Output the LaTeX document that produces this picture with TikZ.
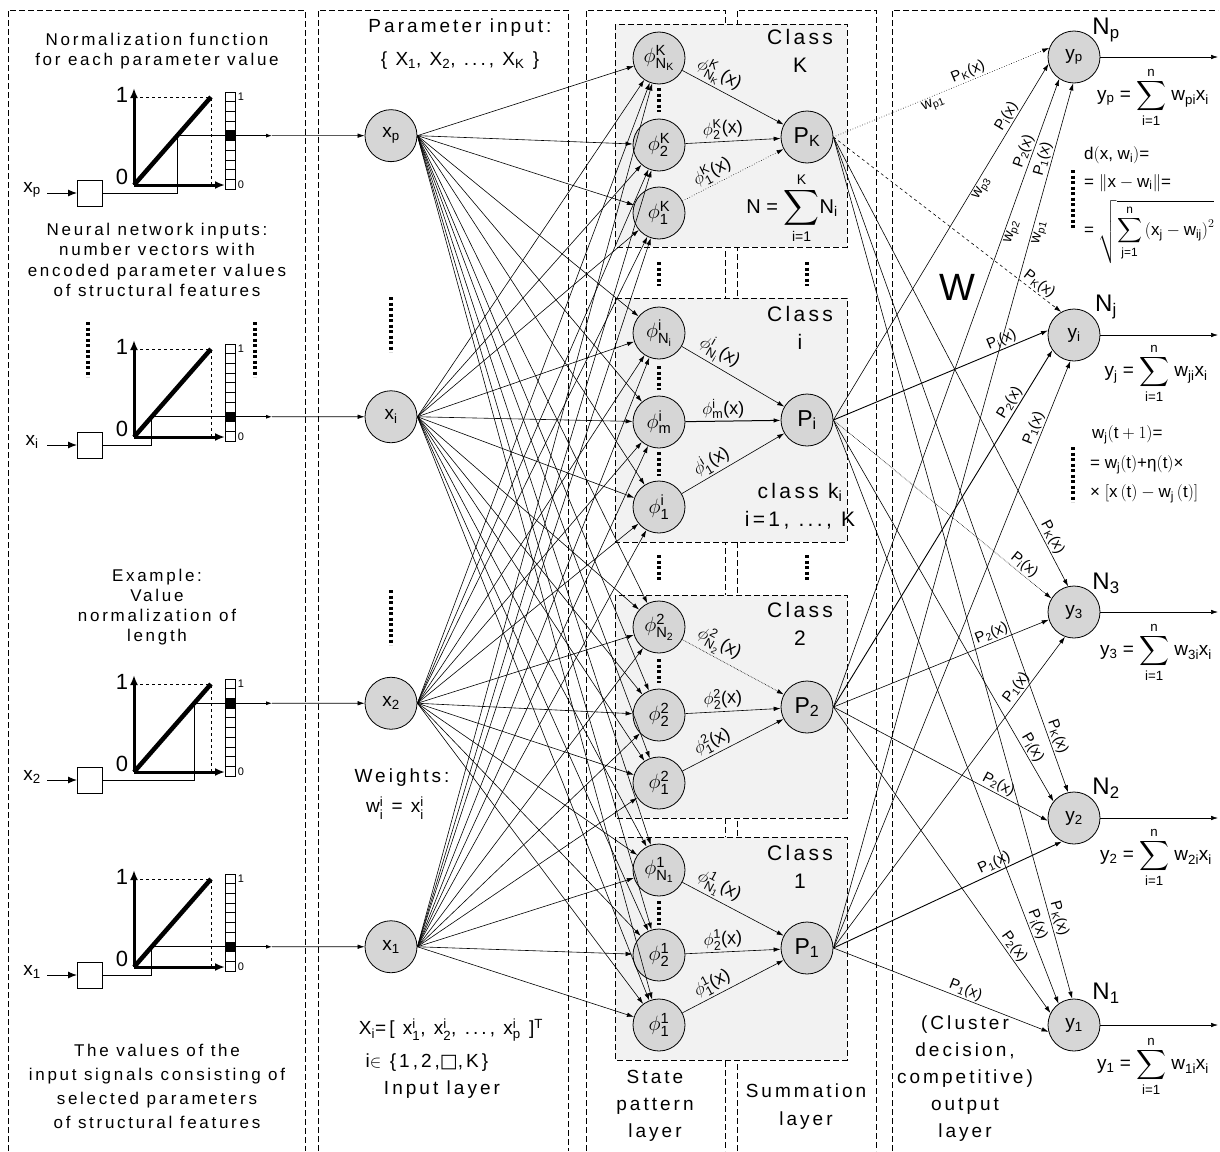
\documentclass[tikz,border=0pt]{standalone}
\usepackage{amsmath}
\usepackage{graphicx}
\usepackage{fontspec}
\setmainfont{Liberation Sans}
\newfontfamily\spcfont{Liberation Sans}[LetterSpace=16]
\newfontfamily\dejavu{DejaVu Sans}
\usetikzlibrary{arrows.meta}
\newcommand\TXT[1]{\text{#1}}
\newcommand\PLab[1]{P\textsubscript{#1}(x)}
\newcommand\BigSum{\mathop{\vcenter{\hbox{\scalebox{1.2}{$\displaystyle\sum$}}}}\limits}
% #1 origin y, #2 filled cell index, #3 input label, #4 target node, #5 coordinate name
\newcommand\normgraph[5]{%
  \pgfmathsetmacro\ngfy{#1-93+(#2+0.5)*9.7}%
  \pgfmathsetmacro\ngcx{134+(#1-\ngfy)*77/88}%
  \draw[thinl] (102,#1+8) -- (\ngcx,#1+8) -- (\ngcx,\ngfy);
  \draw[thinl,-{Latex[length=6pt,width=4pt]}] (\ngcx,\ngfy) -- (272,\ngfy);
  \coordinate (#5) at (272,\ngfy);
  \draw[conn] (#5) -- (#4);
  \draw[axis] (134,#1) -- (134,#1-97);
  \draw[axis] (134,#1) -- (225,#1);
  \draw[thinl,dashed] (140,#1-88) -- (211,#1-88) -- (211,#1);
  \draw[diag] (134,#1) -- (211,#1-88);
  \foreach \k in {0,...,9}{\draw[thinl,fill=white] (225,#1-93+\k*9.7) rectangle (235,#1-93+\k*9.7+9.7);}
  \fill (225,#1-93+#2*9.7) rectangle (235,#1-93+#2*9.7+9.7);
  \node[font=\fontsize{22}{24}\selectfont] at (122,#1-90) {1};
  \node[font=\fontsize{22}{24}\selectfont] at (122,#1-8) {0};
  \node[font=\fontsize{11}{12}\selectfont] at (241,#1-88) {1};
  \node[font=\fontsize{11}{12}\selectfont] at (241,#1) {0};
  \node[font=\fontsize{19}{22}\selectfont] at (32,#1+5) {#3};
  \draw[line width=1pt,-{Latex[length=9pt,width=7pt]}] (47,#1+8) -- (77,#1+8);
  \draw[thinl,fill=white] (77,#1-5) rectangle (102,#1+21);
}
\begin{document}
\begin{tikzpicture}[x=1pt,y=-1pt,
  neuron/.style={circle,draw,line width=0.8pt,fill=black!16,minimum size=52pt,inner sep=0pt,font=\fontsize{19}{22}\selectfont},
  phin/.style={neuron,font=\fontsize{21}{24}\selectfont},
  conn/.style={-{Latex[length=7pt,width=4.5pt]},line width=0.6pt},
  thinl/.style={line width=0.8pt},
  col/.style={line width=0.9pt,dash pattern=on 6pt off 3pt},
  cls/.style={draw,line width=0.9pt,dash pattern=on 6pt off 3pt,fill=black!5},
  txt/.style={font=\spcfont\fontsize{17}{20.5}\selectfont,align=center,inner sep=0pt},
  ctxt/.style={font=\spcfont\fontsize{19}{23}\selectfont,align=center,inner sep=0pt},
  cltxt/.style={font=\spcfont\fontsize{21}{28}\selectfont,align=center,inner sep=0pt},
  elab/.style={font=\fontsize{15}{17}\selectfont,inner sep=1.5pt},
  flab/.style={font=\fontsize{18}{20}\selectfont,inner sep=2pt},
  eq/.style={font=\fontsize{19}{22}\selectfont,inner sep=0pt},
  seq/.style={font=\fontsize{17}{20}\selectfont,inner sep=0pt,anchor=west},
  dotsl/.style={line width=3.5pt,dash pattern=on 3pt off 2.5pt},
  axis/.style={line width=3pt,-{Latex[length=10pt,width=8pt]}},
  diag/.style={line width=4.5pt}]
\useasboundingbox (0,0) rectangle (1220,1151);

% columns
\draw[col] (8,1151) -- (8,10) -- (305,10) -- (305,1151);
\draw[col] (318,1151) -- (318,10) -- (568,10) -- (568,1151);
\draw[col] (586,1151) -- (586,10) -- (725,10) -- (725,1151);
\draw[col] (737,1151) -- (737,10) -- (876,10) -- (876,1151);
\draw[col] (892,1151) -- (892,10) -- (1218,10);

% class boxes
\draw[cls] (615,24) rectangle (847,247);
\draw[cls] (615,298) rectangle (847,542);
\draw[cls] (615,595) rectangle (847,818);
\draw[cls] (615,837) rectangle (847,1060);

% input nodes
\node[neuron] (xp) at (391,135.65) {x\textsubscript{p}};
\node[neuron] (xi) at (391,416.75) {x\textsubscript{i}};
\node[neuron] (x2) at (391,703.25) {x\textsubscript{2}};
\node[neuron] (x1) at (391,946.75) {x\textsubscript{1}};

% pattern nodes
\node[phin] (fKN) at (659,58) {$\phi^{\TXT{K}}_{\TXT{N}_{\TXT{K}}}$};
\node[phin] (fK2) at (659,145) {$\phi^{\TXT{K}}_{\TXT{2}}$};
\node[phin] (fK1) at (659,213) {$\phi^{\TXT{K}}_{\TXT{1}}$};
\node[phin] (fiN) at (659,333) {$\phi^{\TXT{i}}_{\TXT{N}_{\TXT{i}}}$};
\node[phin] (fim) at (659,422) {$\phi^{\TXT{i}}_{\TXT{m}}$};
\node[phin] (fi1) at (659,507) {$\phi^{\TXT{i}}_{\TXT{1}}$};
\node[phin] (f2N) at (659,627) {$\phi^{\TXT{2}}_{\TXT{N}_{\TXT{2}}}$};
\node[phin] (f22) at (659,715) {$\phi^{\TXT{2}}_{\TXT{2}}$};
\node[phin] (f21) at (659,783) {$\phi^{\TXT{2}}_{\TXT{1}}$};
\node[phin] (f1N) at (659,870) {$\phi^{\TXT{1}}_{\TXT{N}_{\TXT{1}}}$};
\node[phin] (f12) at (659,955) {$\phi^{\TXT{1}}_{\TXT{2}}$};
\node[phin] (f11) at (659,1025) {$\phi^{\TXT{1}}_{\TXT{1}}$};

% summation nodes
\node[neuron,font=\fontsize{23}{26}\selectfont] (PK) at (807,137) {P\textsubscript{K}};
\node[neuron,font=\fontsize{23}{26}\selectfont] (Pi) at (807,420) {P\textsubscript{i}};
\node[neuron,font=\fontsize{23}{26}\selectfont] (P2) at (807,707) {P\textsubscript{2}};
\node[neuron,font=\fontsize{23}{26}\selectfont] (P1) at (807,948) {P\textsubscript{1}};

% output nodes
\node[neuron] (yp) at (1074,57) {y\textsubscript{p}};
\node[neuron] (yi) at (1074,335) {y\textsubscript{i}};
\node[neuron] (y3) at (1074,612) {y\textsubscript{3}};
\node[neuron] (y2) at (1074,818) {y\textsubscript{2}};
\node[neuron] (y1) at (1074,1025) {y\textsubscript{1}};

% normalization graphs
\normgraph{185}{4}{x\textsubscript{p}}{xp}{gp}
\normgraph{437}{7}{x\textsubscript{i}}{xi}{gi}
\normgraph{772}{2}{x\textsubscript{2}}{x2}{g2}
\normgraph{967}{7}{x\textsubscript{1}}{x1}{g1}

% input -> pattern
\foreach \s in {xp,xi,x2,x1}{
  \foreach \t in {fKN,fK2,fK1,fiN,fim,fi1,f2N,f22,f21,f1N,f12,f11}{
    \draw[conn] (\s.east) -- (\t);
  }
}

% pattern -> summation
\draw[conn] (fKN) -- node[flab,sloped,above,pos=0.3]{$\phi^{\TXT{K}}_{\TXT{N}_{\TXT{K}}}$(x)} (PK);
\draw[conn] (fK2) -- node[flab,sloped,above,pos=0.4]{$\phi^{\TXT{K}}_{\TXT{2}}$(x)} (PK);
\draw[conn,dotted] (fK1) -- node[flab,sloped,above,pos=0.35]{$\phi^{\TXT{K}}_{\TXT{1}}$(x)} (PK);
\draw[conn] (fiN) -- node[flab,sloped,above,pos=0.3]{$\phi^{\TXT{i}}_{\TXT{N}_{\TXT{i}}}$(x)} (Pi);
\draw[conn,line width=1pt] (fim) -- node[flab,sloped,above,pos=0.4]{$\phi^{\TXT{i}}_{\TXT{m}}$(x)} (Pi);
\draw[conn] (fi1) -- node[flab,sloped,above,pos=0.35]{$\phi^{\TXT{i}}_{\TXT{1}}$(x)} (Pi);
\draw[conn,densely dotted] (f2N) -- node[flab,sloped,above,pos=0.3]{$\phi^{\TXT{2}}_{\TXT{N}_{\TXT{2}}}$(x)} (P2);
\draw[conn] (f22) -- node[flab,sloped,above,pos=0.4]{$\phi^{\TXT{2}}_{\TXT{2}}$(x)} (P2);
\draw[conn] (f21) -- node[flab,sloped,above,pos=0.35]{$\phi^{\TXT{2}}_{\TXT{1}}$(x)} (P2);
\draw[conn] (f1N) -- node[flab,sloped,above,pos=0.3]{$\phi^{\TXT{1}}_{\TXT{N}_{\TXT{1}}}$(x)} (P1);
\draw[conn] (f12) -- node[flab,sloped,above,pos=0.4]{$\phi^{\TXT{1}}_{\TXT{2}}$(x)} (P1);
\draw[conn] (f11) -- node[flab,sloped,above,pos=0.35]{$\phi^{\TXT{1}}_{\TXT{1}}$(x)} (P1);

% summation -> output
\draw[conn,dotted] (PK.east) -- node[elab,sloped,above,pos=0.64]{\PLab{K}} node[elab,sloped,below,pos=0.45]{w\textsubscript{p1}} (yp.160);
\draw[conn,dashed] (PK.east) -- node[elab,sloped,above,pos=0.88]{\PLab{K}} (yi.119);
\draw[conn] (PK.east) -- node[elab,sloped,above,pos=0.9]{\PLab{K}} (y3.103);
\draw[conn] (PK.east) -- node[elab,sloped,above,pos=0.92]{\PLab{K}} (y2.103);
\draw[conn] (PK.east) -- node[elab,sloped,above,pos=0.91]{\PLab{K}} (y1.94);

\draw[conn] (Pi.east) -- node[elab,sloped,above,pos=0.84]{\PLab{i}} node[elab,sloped,below,pos=0.66]{w\textsubscript{p3}} (yp.195);
\draw[conn,line width=0.9pt] (Pi.east) -- node[elab,sloped,above,pos=0.8]{\PLab{i}} (yi.170);
\draw[conn,densely dotted] (Pi.east) -- node[elab,sloped,above,pos=0.85]{\PLab{i}} (y3.149);
\draw[conn] (Pi.east) -- node[elab,sloped,above,pos=0.87]{\PLab{i}} (y2.141);
\draw[conn] (Pi.east) -- node[elab,sloped,above,pos=0.87]{\PLab{i}} (y1.126);

\draw[conn] (P2.east) -- node[elab,sloped,above,pos=0.88]{\PLab{2}} node[elab,sloped,below,pos=0.76]{w\textsubscript{p2}} (yp.236);
\draw[conn,line width=0.9pt] (P2.east) -- node[elab,sloped,above,pos=0.84]{\PLab{2}} (yi.215);
\draw[conn] (P2.east) -- node[elab,sloped,above,pos=0.75]{\PLab{2}} (y3.197);
\draw[conn] (P2.east) -- node[elab,sloped,above,pos=0.75]{\PLab{2}} (y2.186);
\draw[conn] (P2.east) -- node[elab,sloped,above,pos=0.8]{\PLab{2}} (y1.153);

\draw[conn] (P1.east) -- node[elab,sloped,above,pos=0.91]{\PLab{1}} node[elab,sloped,below,pos=0.83]{w\textsubscript{p1}} (yp.268);
\draw[conn] (P1.east) -- node[elab,sloped,above,pos=0.88]{\PLab{1}} (yi.262);
\draw[conn] (P1.east) -- node[elab,sloped,above,pos=0.82]{\PLab{1}} (y3.250);
\draw[conn,line width=0.9pt] (P1.east) -- node[elab,sloped,above,pos=0.72]{\PLab{1}} (y2.243);
\draw[conn] (P1.east) -- node[elab,sloped,above,pos=0.6]{\PLab{1}} (y1.195);

% output arrows
\coordinate (op) at (1218,57);
\coordinate (oi) at (1218,335);
\coordinate (o3) at (1218,612);
\coordinate (o2) at (1218,818);
\coordinate (o1) at (1218,1025);
\draw[conn] (yp) -- (op);
\draw[conn] (yi) -- (oi);
\draw[conn] (y3) -- (o3);
\draw[conn] (y2) -- (o2);
\draw[conn] (y1) -- (o1);

% output labels
\node[font=\fontsize{24}{26}\selectfont] (Np) at (1106,30) {N\textsubscript{p}};
\node[font=\fontsize{24}{26}\selectfont] (Nj) at (1106,307) {N\textsubscript{j}};
\node[font=\fontsize{24}{26}\selectfont] (N3) at (1106,583) {N\textsubscript{3}};
\node[font=\fontsize{24}{26}\selectfont] (N2) at (1106,788) {N\textsubscript{2}};
\node[font=\fontsize{24}{26}\selectfont] (N1) at (1106,993) {N\textsubscript{1}};

\node[eq] (ep) at (1153,97) {y\textsubscript{p} = $\BigSum_{\TXT{i=1}}^{\TXT{n}}$ w\textsubscript{pi}x\textsubscript{i}};
\node[eq] (ej) at (1156,373) {y\textsubscript{j} = $\BigSum_{\TXT{i=1}}^{\TXT{n}}$ w\textsubscript{ji}x\textsubscript{i}};
\node[eq] (e3) at (1156,652) {y\textsubscript{3} = $\BigSum_{\TXT{i=1}}^{\TXT{n}}$ w\textsubscript{3i}x\textsubscript{i}};
\node[eq] (e2) at (1156,857) {y\textsubscript{2} = $\BigSum_{\TXT{i=1}}^{\TXT{n}}$ w\textsubscript{2i}x\textsubscript{i}};
\node[eq] (e1) at (1153,1066) {y\textsubscript{1} = $\BigSum_{\TXT{i=1}}^{\TXT{n}}$ w\textsubscript{1i}x\textsubscript{i}};

\node[seq] (d1) at (1084,155) {d$\left(\TXT{x, w}_{\TXT{i}}\right)$=};
\node[seq] (d2) at (1084,183) {= $\left\|\TXT{x} - \TXT{w}_{\TXT{i}}\right\|$=};
\node[seq] (d3) at (1084,232) {= $\sqrt{\displaystyle\sum_{\TXT{j=1}}^{\TXT{n}}\left(\TXT{x}_{\TXT{j}} - \TXT{w}_{\TXT{ij}}\right)^{2}}$};
\node[seq] (u1) at (1092,435) {w\textsubscript{j}$\left(\TXT{t}+1\right)$=};
\node[seq] (u2) at (1090,465) {= w\textsubscript{j}$\left(\TXT{t}\right)$+η$\left(\TXT{t}\right)$×};
\node[seq] (u3) at (1090,494) {× $\left[\TXT{x}\left(\TXT{t}\right) - \TXT{w}_{\TXT{j}}\left(\TXT{t}\right)\right]$};

\node[font=\fontsize{38}{40}\selectfont] (W) at (957,287) {W};

% class labels
\node[cltxt] at (800,51) {Class\\K};
\node[font=\fontsize{20}{24}\selectfont] at (792,208) {N = $\BigSum_{\TXT{i=1}}^{\TXT{K}}$N\textsubscript{i}};
\node[cltxt] at (800,328) {Class\\i};
\node[cltxt] at (800,506) {class k\textsubscript{i}\\i=1, ..., K};
\node[cltxt] at (800,624) {Class\\2};
\node[cltxt] at (800,867) {Class\\1};

% left column texts
\node[txt] at (157,51) {Normalization function\\for each parameter value};
\node[txt] at (157,260) {Neural network inputs:\\number vectors with\\encoded parameter values\\of structural features};
\node[txt,font=\spcfont\fontsize{17}{20}\selectfont] at (157,607) {Example:\\Value\\normalization of\\length};
\node[txt,font=\spcfont\fontsize{17}{24}\selectfont] at (157,1086) {The values of the\\input signals consisting of\\selected parameters\\of structural features};

% input column texts
\node[ctxt,font=\spcfont\fontsize{19}{33}\selectfont] at (460,44) {Parameter input:\\\{ X\textsubscript{1}, X\textsubscript{2}, ..., X\textsubscript{K} \}};
\node[ctxt] at (402,778) {Weights:};
\node[ctxt] at (395,808) {w$^{\TXT{i}}_{\TXT{i}}$ = x$^{\TXT{i}}_{\TXT{i}}$};
\node[ctxt] at (451,1030) {X\textsubscript{i}=[ x$^{\TXT{i}}_{\TXT{1}}$, x$^{\TXT{i}}_{\TXT{2}}$, ..., x$^{\TXT{i}}_{\TXT{p}}$ ]$^{\TXT{T}}$};
\node[ctxt] at (427,1063) {i$\in$ \{1,2,{\dejavu □},K\}};
\node[ctxt] at (442,1090) {Input layer};

% layer names
\node[ctxt,font=\spcfont\fontsize{19}{27}\selectfont] at (655,1106) {State\\pattern\\layer};
\node[ctxt,font=\spcfont\fontsize{19}{28}\selectfont] at (806,1107) {Summation\\layer};
\node[ctxt,font=\spcfont\fontsize{19}{27}\selectfont] at (965,1079) {(Cluster\\decision,\\competitive)\\output\\layer};

% dotted ellipses
\draw[dotsl] (88,322) -- (88,377);
\draw[dotsl] (255,322) -- (255,377);
\draw[dotsl] (391,297) -- (391,352);
\draw[dotsl] (391,590) -- (391,645);
\draw[dotsl] (659,88) -- (659,112);
\draw[dotsl] (659,366) -- (659,390);
\draw[dotsl] (659,452) -- (659,476);
\draw[dotsl] (659,659) -- (659,683);
\draw[dotsl] (659,901) -- (659,925);
\draw[dotsl] (659,262) -- (659,286);
\draw[dotsl] (807,262) -- (807,286);
\draw[dotsl] (659,555) -- (659,580);
\draw[dotsl] (807,555) -- (807,580);
\draw[dotsl] (1073,170) -- (1073,228);
\draw[dotsl] (1073,447) -- (1073,502);
\end{tikzpicture}
\end{document}
